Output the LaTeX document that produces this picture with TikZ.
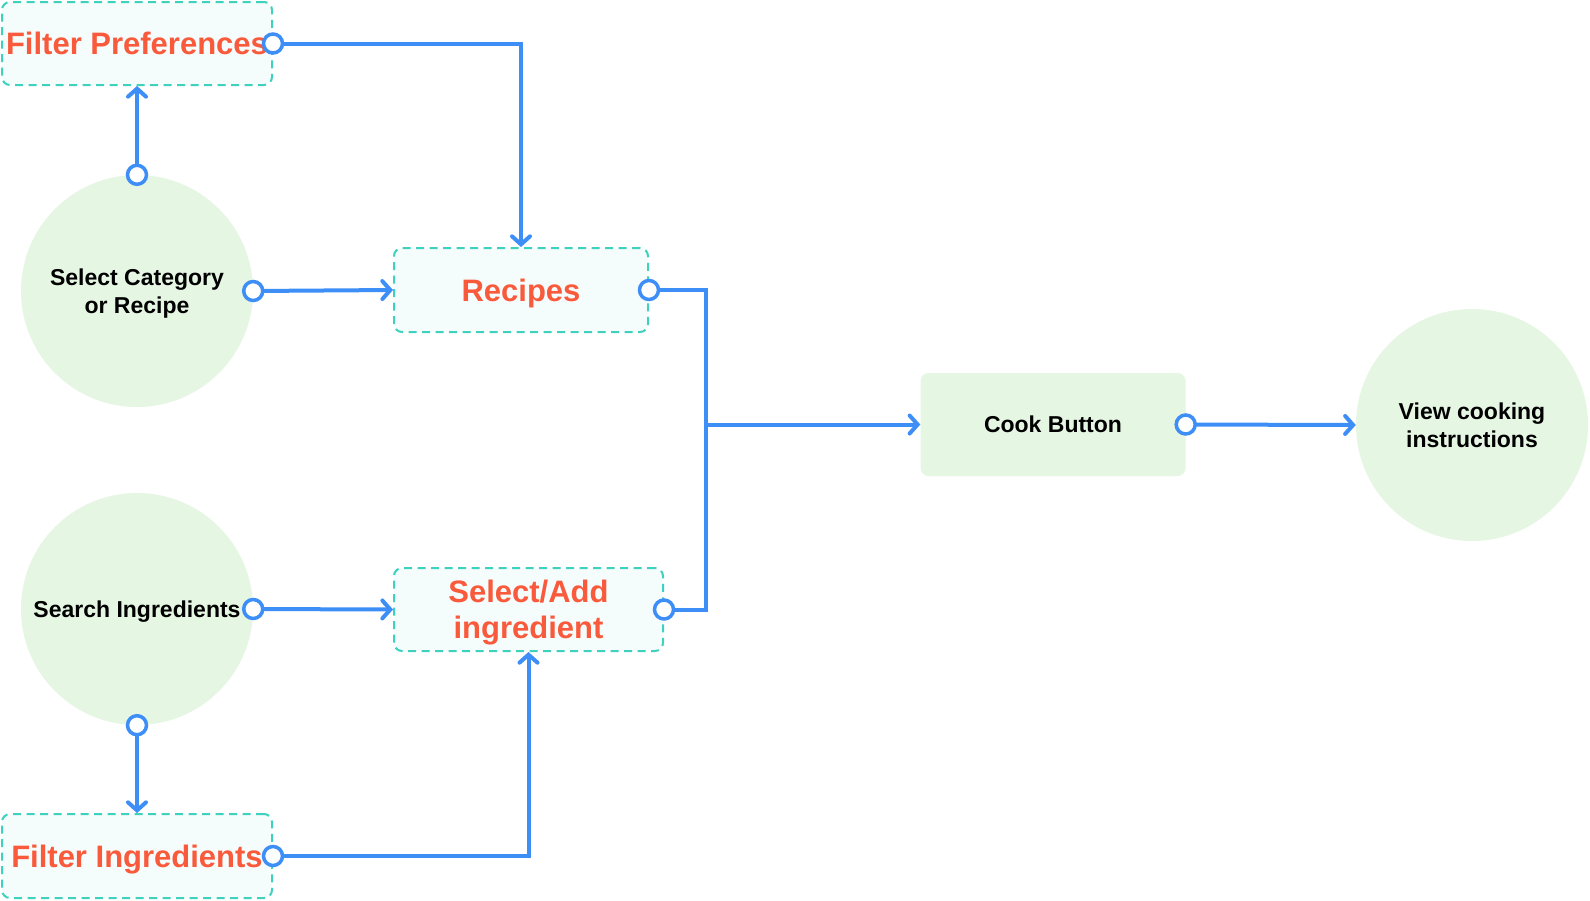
\documentclass[tikz,border=0pt]{standalone}
\usepackage{fontspec}
\setmainfont{Liberation Sans}
\usetikzlibrary{arrows.meta}
\definecolor{cblue}{HTML}{3D8EF7}
\definecolor{corange}{HTML}{F95A3B}
\definecolor{cteal}{HTML}{3DD1BE}
\definecolor{cpale}{HTML}{F5FCFC}
\definecolor{cgreen}{HTML}{E5F6E3}
\tikzset{
  dbox/.style={draw=cteal, fill=cpale, dash pattern=on 8pt off 5.5pt, line width=2pt,
    rounded corners=8pt, inner sep=0pt, align=center, text=corange, text depth=0pt,
    font=\bfseries\fontsize{31}{36.5}\selectfont},
  gcirc/.style={circle, fill=cgreen, draw=none, minimum size=232pt, inner sep=0pt,
    align=center, text depth=0pt, font=\bfseries\fontsize{23}{27.5}\selectfont},
  gbox/.style={rectangle, fill=cgreen, draw=none, rounded corners=8pt, inner sep=0pt,
    align=center, font=\bfseries\fontsize{23}{27.5}\selectfont},
  conn/.style={draw=cblue, line width=4pt, -{Straight Barb[length=8pt,width=18pt,line cap=round]}},
  wire/.style={draw=cblue, line width=4pt},
  port/.style={circle, draw=cblue, fill=white, line width=3.5pt, minimum size=19pt, inner sep=0pt}
}
\begin{document}
\begin{tikzpicture}[x=1pt,y=-1pt]
\useasboundingbox (0,0) rectangle (1590,900);
\fill[white] (0,0) rectangle (1590,900);
% nodes
\node[dbox, minimum width=270pt, minimum height=83pt] (fp) at (137,43.5) {Filter Preferences};
\node[gcirc] (sc) at (137,291) {Select Category\\or Recipe};
\node[dbox, minimum width=254pt, minimum height=84pt] (rec) at (521,290) {Recipes};
\node[gcirc] (si) at (137,609) {Search Ingredients};
\node[dbox, minimum width=269pt, minimum height=83pt] (sa) at (528.5,609.5) {Select/Add\\ingredient};
\node[dbox, minimum width=270pt, minimum height=84pt] (fi) at (137,856) {Filter Ingredients};
\node[gbox, minimum width=265pt, minimum height=103pt] (cook) at (1053,424.5) {Cook Button};
\node[gcirc] (view) at (1472,425) {View cooking\\instructions};
\coordinate (j) at (706,424.5);
% connectors
\draw[conn] (sc.north) -- (fp.south);
\draw[conn] (fp.east) -| (rec.north);
\draw[conn] (sc.east) -- (rec.west);
\draw[wire] (rec.east) -| (j);
\draw[wire] (sa.east) -| (j);
\draw[conn] (j) -- (cook.west);
\draw[conn] (cook.east) -- (view.west);
\draw[conn] (si.east) -- (sa.west);
\draw[conn] (si.south) -- (fi.north);
\draw[conn] (fi.east) -| (sa.south);
% ports
\node[port] (p1) at (fp.east) {};
\node[port] (p2) at (sc.north) {};
\node[port] (p3) at (sc.east) {};
\node[port] (p4) at (rec.east) {};
\node[port] (p5) at (sa.east) {};
\node[port] (p6) at (si.east) {};
\node[port] (p7) at (si.south) {};
\node[port] (p8) at (fi.east) {};
\node[port] (p9) at (cook.east) {};
\end{tikzpicture}
\end{document}
